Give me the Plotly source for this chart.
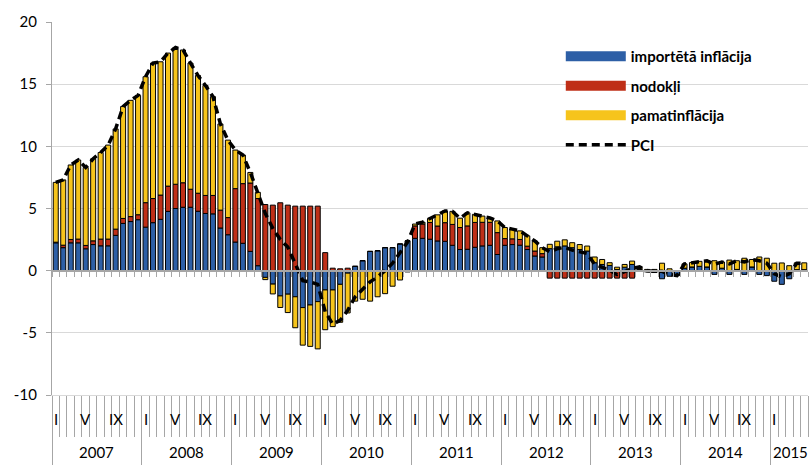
import plotly.graph_objects as go

# ---- data (monthly, Jan 2007 .. May 2015) ----
years = [2007, 2008, 2009, 2010, 2011, 2012, 2013, 2014, 2015]
months_per_year = [12, 12, 12, 12, 12, 12, 12, 12, 5]
month_labels = ["I", "", "", "", "V", "", "", "", "IX", "", "", ""]
month_labels_last = ["I", "", "", "", ""]
y_tick_values = [-10, -5, 0, 5, 10, 15, 20]
y_tick_labels = ["-10", "-5", "0", "5", "10", "15", "20"]

imported = [
    2.24, 1.85, 2.24, 2.24, 1.76, 2.1, 2.0, 2.0, 2.84, 3.8, 3.95, 4.1,
    3.5, 3.86, 4.13, 4.77, 5.0, 5.1, 5.1, 4.78, 4.6, 4.57, 3.43, 2.89,
    2.3, 2.2, 1.55, 0.4, -0.54, -1.08, -2.03, -1.89, -2.1, -2.97, -2.76, -2.49,
    -1.55, -1.55, -1.1, -0.2, 0.35, 0.8, 1.55, 1.6, 1.85, 1.85, 2.15, 2.4,
    2.6, 2.6, 2.53, 2.39, 2.36, 2.04, 1.7, 1.72, 1.88, 1.99, 2.04, 1.3,
    2.04, 2.1, 2.05, 1.7, 1.18, 1.1, 1.77, 1.92, 1.99, 1.85, 1.7, 1.58,
    0.64, 0.5, 0.42, 0.1, 0.28, 0.5, 0.1, -0.1, -0.15, -0.65, -0.45, -0.35,
    0.2, 0.3, 0.35, 0.3, -0.3, 0.2, -0.3, 0.1, -0.3, 0.3, -0.3, -0.4,
    -0.85, -1.1, -0.65, 0.08, 0.08,
]
taxes = [
    0.05, 0.2, 0.27, 0.3, 0.27, 0.3, 0.54, 0.54, 0.5, 0.4, 0.4, 0.4,
    1.97, 1.94, 1.95, 2.03, 1.95, 1.97, 1.45, 1.45, 1.45, 1.48, 1.44, 1.38,
    4.3, 4.8, 5.5, 5.4, 5.32, 5.27, 5.46, 5.27, 5.19, 5.19, 5.19, 5.19,
    1.45, 0.2, 0.15, 0.2, 0, 0, 0, 0, 0, 0, 0, 0,
    1.0, 1.15, 1.35, 1.2, 1.5, 1.68, 1.77, 1.88, 2.0, 1.9, 1.85, 1.76,
    0.54, 0.46, 0.46, 0.27, 0.4, 0.27, -0.6, -0.6, -0.6, -0.6, -0.6, -0.6,
    -0.6, -0.6, -0.6, -0.6, -0.6, -0.6, 0, 0, 0, 0, 0, 0,
    0, 0, 0, 0, 0, 0, 0, 0, 0, 0, 0, 0,
    0, 0, 0, 0, 0,
]
core = [
    4.81, 5.25, 5.99, 6.36, 6.27, 6.6, 6.96, 7.56, 8.06, 9.0, 9.35, 9.6,
    10.13, 10.9, 10.72, 10.7, 11.0, 10.68, 10.15, 9.47, 8.85, 7.95, 6.93, 6.23,
    3.1, 2.3, 0.85, 0.5, -0.18, -0.79, -0.93, -1.48, -2.49, -3.02, -3.33, -3.8,
    -3.2, -2.95, -3.05, -3.2, -2.45, -2.3, -2.45, -2.1, -1.85, -1.25, -0.75, -0.1,
    0.15, 0.15, 0.32, 0.9, 0.95, 1.05, 0.75, 1.05, 0.65, 0.5, 0.35, 0.94,
    0.89, 0.78, 0.69, 0.83, 0.81, 0.48, 0.35, 0.45, 0.49, 0.4, 0.4, 0.4,
    0.46, 0.4, 0.22, 0.18, 0.22, 0.27, 0.2, 0.1, 0.1, 0.6, 0.15, -0.05,
    0.35, 0.35, 0.4, 0.5, 0.8, 0.5, 0.85, 0.7, 1.0, 0.6, 1.1, 1.0,
    0.6, 0.62, 0.4, 0.55, 0.55,
]
pci = [
    7.1, 7.3, 8.5, 8.9, 8.3, 9.0, 9.5, 10.1, 11.4, 13.2, 13.7, 14.1,
    15.6, 16.7, 16.8, 17.5, 17.95, 17.75, 16.7, 15.7, 14.9, 14.0, 11.8, 10.5,
    9.7, 9.3, 7.9, 6.3, 4.6, 3.4, 2.5, 1.9, 0.6, -0.8, -0.9, -1.1,
    -3.3, -4.3, -4.0, -3.2, -2.1, -1.5, -0.9, -0.5, 0.0, 0.6, 1.4, 2.3,
    3.75, 3.9, 4.2, 4.5, 4.8, 4.77, 4.22, 4.65, 4.53, 4.39, 4.24, 4.0,
    3.47, 3.34, 3.2, 2.8, 2.39, 1.85, 1.52, 1.77, 1.88, 1.65, 1.5, 1.38,
    0.5, 0.3, 0.04, -0.32, -0.1, 0.17, 0.3, 0.0, -0.05, -0.05, -0.3, -0.4,
    0.55, 0.65, 0.75, 0.8, 0.5, 0.7, 0.55, 0.8, 0.7, 0.9, 0.8, 0.6,
    -0.25, -0.5, -0.25, 0.6, 0.6,
]

series_names = ["importētā inflācija", "nodokļi", "pamatinflācija", "PCI"]
colors = ["#2D5FA6", "#BF2F17", "#F6C41C"]

n = len(pci)
x = list(range(n))
FONT = "Lato, Carlito, Calibri, sans-serif"

fig = go.Figure()
for i, (vals, col) in enumerate(zip([imported, taxes, core], colors)):
    fig.add_trace(go.Bar(
        x=x, y=vals, name=series_names[i], legendgroup=str(i), showlegend=False,
        marker=dict(color=col, line=dict(color="black", width=1)),
    ))
    # legend entry drawn as a wide colour swatch (like the original legend keys)
    fig.add_trace(go.Scatter(
        x=[None], y=[None], name=series_names[i], legendgroup=str(i), mode="lines",
        line=dict(color=col, width=10), hoverinfo="skip",
    ))
fig.add_trace(go.Scatter(
    x=x, y=pci, name=series_names[3], legendgroup="3", mode="lines",
    line=dict(color="black", width=3.5, dash="8px,5px"),
))
# invisible helper trace so the zero-crossing category axis is drawn
fig.add_trace(go.Scatter(x=x, y=pci, xaxis="x2", mode="lines", showlegend=False,
                         line=dict(width=0), opacity=0, hoverinfo="skip"))

annotations = []
start = 0
for k, (yr, cnt) in enumerate(zip(years, months_per_year)):
    labels = month_labels if cnt == 12 else month_labels_last
    for m in range(cnt):
        if labels[m]:
            annotations.append(dict(x=start + m, y=-0.064, xref="x", yref="paper",
                                    xanchor="center", yanchor="middle",
                                    text=labels[m], showarrow=False,
                                    font=dict(family=FONT, size=15, color="black")))
    xc = start + (cnt - 1) / 2
    if cnt < 12:
        xc = start + cnt - 2.8
    annotations.append(dict(x=xc, y=-0.153, xref="x", yref="paper",
                            xanchor="center", yanchor="middle",
                            text=str(yr), showarrow=False,
                            font=dict(family=FONT, size=15, color="black")))
    start += cnt

rng = [-0.5, n - 0.5]
fig.update_layout(
    width=811, height=465,
    margin=dict(l=52, r=3, t=22, b=70, autoexpand=False),
    barmode="relative", bargap=0.33,
    plot_bgcolor="white", paper_bgcolor="white",
    font=dict(family=FONT, size=15, color="black"),
    showlegend=True,
    legend=dict(x=0.673, y=0.952, xanchor="left", yanchor="top",
                traceorder="grouped", tracegroupgap=7,
                bgcolor="rgba(0,0,0,0)",
                font=dict(family=FONT, size=15, color="black", weight="bold"),
                itemwidth=60),
    xaxis=dict(range=rng, tickmode="linear", tick0=-0.5, dtick=12, automargin=False,
               ticks="outside", ticklen=70, tickcolor="#a6a6a6", tickwidth=1,
               showticklabels=False, showgrid=False, zeroline=False,
               showline=True, linecolor="#d9d9d9", linewidth=1,
               minor=dict(tickmode="linear", tick0=-0.5, dtick=1, ticks="outside",
                          ticklen=41, tickcolor="#a6a6a6", tickwidth=1, showgrid=False)),
    xaxis2=dict(overlaying="x", anchor="free", position=1 / 3, side="bottom",
                range=rng, tickmode="linear", tick0=-0.5, dtick=1, automargin=False,
                ticks="outside", ticklen=5, tickcolor="#a6a6a6", tickwidth=1,
                showticklabels=False, showgrid=False, zeroline=False,
                showline=True, linecolor="#a6a6a6", linewidth=2),
    yaxis=dict(range=[-10, 20], tickmode="array", tickvals=y_tick_values,
               ticktext=y_tick_labels, automargin=False,
               showgrid=True, gridcolor="#d9d9d9", gridwidth=1.3,
               zeroline=False, showline=True, linecolor="#a6a6a6", linewidth=1.3,
               ticks="outside", ticklen=5, tickcolor="#a6a6a6", ticklabelstandoff=6,
               tickfont=dict(family=FONT, size=15, color="black")),
    annotations=annotations,
)

fig.write_html(
    "out.html",
    config={"displayModeBar": False},
    post_script="document.body.style.margin='0px';document.body.style.overflow='hidden';",
)
